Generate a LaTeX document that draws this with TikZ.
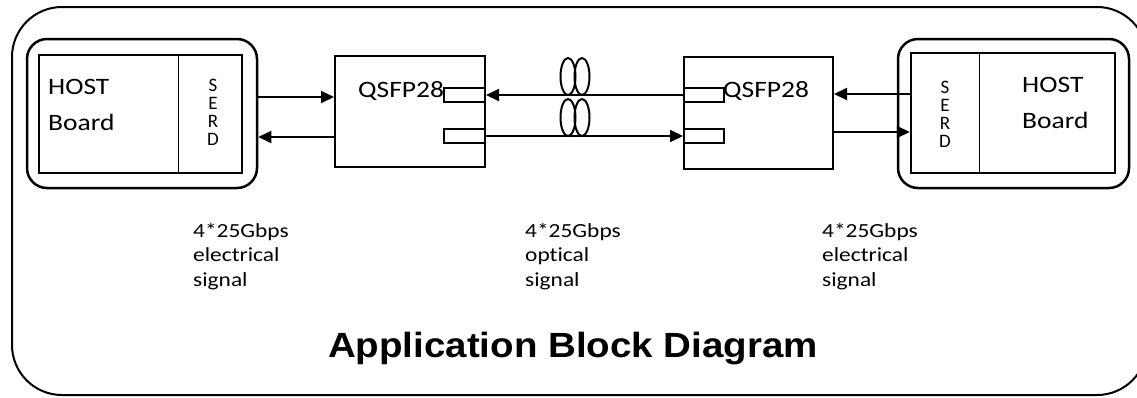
\documentclass[tikz,border=0pt]{standalone}
\usepackage{fontspec}
\setmainfont{Carlito}[FakeStretch=1.17, Ligatures=NoCommon]
\newfontfamily\serdfont{Carlito}
\newfontfamily\titlefont{Liberation Sans}[FakeStretch=1.1]
\usetikzlibrary{arrows.meta, shapes.geometric}

\begin{document}
\begin{tikzpicture}[
    x=1pt, y=-1pt,
    >={Triangle[length=13pt, width=12pt]},
    inner sep=0pt,
    frame/.style={rectangle, draw, line width=2pt, rounded corners=50pt},
    group/.style={rectangle, draw, line width=2.5pt, rounded corners=20pt},
    board/.style={rectangle, draw, line width=2.5pt},
    module/.style={rectangle, draw, line width=2pt},
    port/.style={rectangle, draw, line width=2pt, minimum width=41pt, minimum height=14pt},
    coil/.style={ellipse, draw, line width=2pt, minimum width=15pt, minimum height=37pt},
    hosttext/.style={font=\fontsize{23.5}{36}\selectfont, align=left},
    serd/.style={font=\fontsize{19}{18}\serdfont, align=center},
    rate/.style={font=\fontsize{20}{24.5}\selectfont, align=left},
    line/.style={->, line width=2pt}
]
\useasboundingbox (0,0) rectangle (1137,397);
\node[frame, minimum width=1135pt, minimum height=388pt] (frame) at (579.5,201) {};
\node[group, minimum width=230pt, minimum height=149pt] (hostL) at (142,113.5) {};
\node[board, minimum width=203pt, minimum height=118pt] (hostLin) at (140.5,114) {};
\node[group, minimum width=231pt, minimum height=149pt] (hostR) at (1013.5,113.5) {};
\node[board, minimum width=204pt, minimum height=120pt] (hostRin) at (1013,113) {};
\node[module, minimum width=150pt, minimum height=111pt] (qsfpL) at (410,111.5) {};
\node[module, minimum width=149pt, minimum height=112pt] (qsfpR) at (758.5,113) {};
\node[port] (portL1) at (464.5,95) {};
\node[port] (portL2) at (464.5,135.5) {};
\node[port, minimum width=40pt] (portR1) at (704,95) {};
\node[port, minimum width=40pt] (portR2) at (704,135.5) {};
\node[coil] (coil1) at (568,76.5) {};
\node[coil] (coil2) at (582,76.5) {};
\node[coil] (coil3) at (568,117.5) {};
\node[coil] (coil4) at (582,117.5) {};
\node[hosttext, anchor=base west] (hostLtext) at (48,130) {HOST\\Board};
\node[hosttext, anchor=base west] (hostRtext) at (1022,128) {HOST\\Board};
\node[hosttext, anchor=base west] (qsfpLtext) at (358,97) {QSFP28};
\node[hosttext, anchor=base west] (qsfpRtext) at (723,97) {QSFP28};
\node[serd] (serdL) at (213,112.5) {S\\E\\R\\D};
\node[serd] (serdR) at (945,114) {S\\E\\R\\D};
\node[rate, anchor=base west] (rateL) at (193,286) {4*25Gbps\\electrical\\signal};
\node[rate, anchor=base west] (rateM) at (525,286) {4*25Gbps\\optical\\signal};
\node[rate, anchor=base west] (rateR) at (822,286) {4*25Gbps\\electrical\\signal};
\node[font=\fontsize{35}{40}\titlefont\bfseries, anchor=base] (title) at (573,357) {Application Block Diagram};
\draw[line width=1pt] (hostLin.north -| 178,0) -- (hostLin.south -| 178,0);
\draw[line width=1pt] (hostRin.north -| 979,0) -- (hostRin.south -| 979,0);
\draw[line] (hostL.east |- 0,97) -- (qsfpL.west |- 0,97);
\draw[line] (qsfpL.west |- 0,137) -- (hostL.east |- 0,137);
\draw[line] (qsfpR.west |- 0,95) -- (qsfpL.east |- 0,95);
\draw[line] (qsfpL.east |- 0,136) -- (qsfpR.west |- 0,136);
\draw[line] (hostRin.west |- 0,94) -- (qsfpR.east |- 0,94);
\draw[line] (qsfpR.east |- 0,132) -- (hostRin.west |- 0,132);
\end{tikzpicture}
\end{document}
